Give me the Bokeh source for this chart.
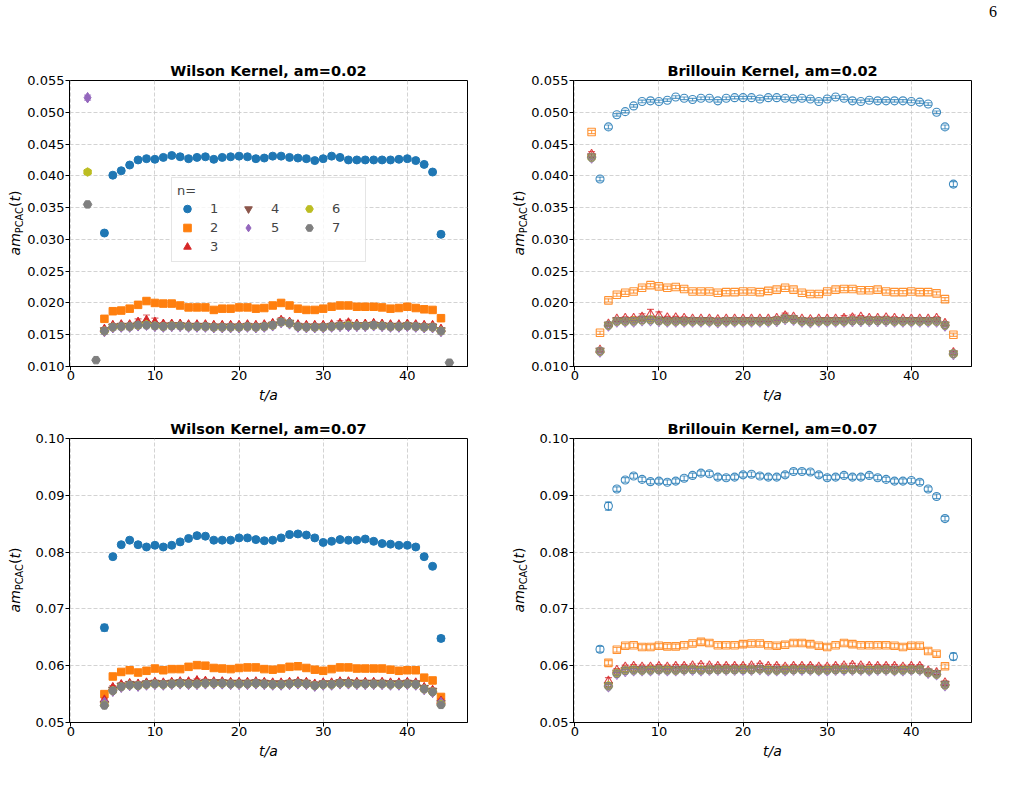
import math
from bokeh.plotting import figure
from bokeh.layouts import column, row
from bokeh.models import (ColumnDataSource, FixedTicker, PrintfTickFormatter,
                          Legend, LegendItem, Range1d, Div)
from bokeh.embed import file_html
from bokeh.resources import INLINE

# ---------------------------------------------------------------- data
# time slices
T2_45 = list(range(2, 46))
T3_45 = list(range(3, 46))
T4_44 = list(range(4, 45))
T2_4_44 = [2] + list(range(4, 45))

# Wilson kernel, am = 0.02
wk02_t = {1: T4_44, 2: T4_44, 3: T4_44, 4: T4_44, 5: T2_4_44, 6: T2_4_44, 7: T2_45}
wk02_n1 = [0.0310, 0.0401, 0.0408, 0.0417, 0.0425, 0.0427, 0.0426, 0.0429, 0.0432, 0.0430,
           0.0427, 0.0429, 0.0430, 0.0426, 0.0429, 0.0430, 0.0431, 0.0430, 0.0427, 0.0428,
           0.0431, 0.0431, 0.0429, 0.0428, 0.0427, 0.0424, 0.0427, 0.0431, 0.0429, 0.0425,
           0.0425, 0.0425, 0.0425, 0.0425, 0.0425, 0.0426, 0.0427, 0.0424, 0.0418, 0.0406,
           0.0308]
wk02_n2 = [0.0175, 0.0187, 0.0188, 0.0191, 0.0197, 0.0203, 0.0200, 0.0199, 0.0199, 0.0196,
           0.0193, 0.0193, 0.0193, 0.0189, 0.0191, 0.0191, 0.0193, 0.0193, 0.0191, 0.0192,
           0.0196, 0.0200, 0.0196, 0.0191, 0.0189, 0.0189, 0.0191, 0.0194, 0.0196, 0.0196,
           0.0194, 0.0194, 0.0194, 0.0193, 0.0191, 0.0192, 0.0194, 0.0192, 0.0190, 0.0189,
           0.0176]
wk02_n3 = [0.0159, 0.0165, 0.0166, 0.0166, 0.0170, 0.0173, 0.0170, 0.0167, 0.0167, 0.0167,
           0.0166, 0.0166, 0.0166, 0.0165, 0.0165, 0.0165, 0.0165, 0.0166, 0.0165, 0.0166,
           0.0168, 0.0173, 0.0170, 0.0166, 0.0165, 0.0165, 0.0165, 0.0166, 0.0168, 0.0169,
           0.0167, 0.0167, 0.0168, 0.0167, 0.0166, 0.0166, 0.0167, 0.0166, 0.0165, 0.0165,
           0.0159]
wk02_n4 = [0.0157, 0.0163, 0.0164, 0.0164, 0.0166, 0.0167, 0.0165, 0.0164, 0.0165, 0.0165,
           0.0164, 0.0164, 0.0164, 0.0163, 0.0163, 0.0163, 0.0163, 0.0164, 0.0163, 0.0164,
           0.0166, 0.0171, 0.0169, 0.0164, 0.0163, 0.0163, 0.0163, 0.0164, 0.0165, 0.0166,
           0.0165, 0.0165, 0.0166, 0.0165, 0.0164, 0.0164, 0.0165, 0.0164, 0.0163, 0.0163,
           0.0157]
wk02_n5 = [0.0523,
           0.0155, 0.0161, 0.0162, 0.0162, 0.0164, 0.0165, 0.0163, 0.0162, 0.0163, 0.0163,
           0.0162, 0.0162, 0.0162, 0.0161, 0.0161, 0.0161, 0.0161, 0.0162, 0.0161, 0.0162,
           0.0164, 0.0169, 0.0167, 0.0162, 0.0161, 0.0161, 0.0161, 0.0162, 0.0163, 0.0163,
           0.0163, 0.0163, 0.0164, 0.0163, 0.0162, 0.0162, 0.0163, 0.0162, 0.0161, 0.0161,
           0.0155]
wk02_n6 = [0.0406,
           0.0156, 0.0162, 0.0163, 0.0163, 0.0165, 0.0166, 0.0164, 0.0163, 0.0164, 0.0164,
           0.0163, 0.0163, 0.0163, 0.0162, 0.0162, 0.0162, 0.0162, 0.0163, 0.0162, 0.0163,
           0.0165, 0.0170, 0.0168, 0.0163, 0.0162, 0.0162, 0.0162, 0.0163, 0.0164, 0.0165,
           0.0164, 0.0164, 0.0165, 0.0164, 0.0163, 0.0163, 0.0164, 0.0163, 0.0162, 0.0162,
           0.0156]
wk02_n7 = [0.0355, 0.0110,
           0.0156, 0.0162, 0.0163, 0.0163, 0.0165, 0.0165, 0.0164, 0.0163, 0.0164, 0.0164,
           0.0163, 0.0163, 0.0163, 0.0162, 0.0162, 0.0162, 0.0162, 0.0163, 0.0162, 0.0163,
           0.0165, 0.0170, 0.0168, 0.0163, 0.0162, 0.0162, 0.0162, 0.0163, 0.0164, 0.0164,
           0.0164, 0.0164, 0.0165, 0.0164, 0.0163, 0.0163, 0.0164, 0.0163, 0.0162, 0.0162,
           0.0156, 0.0106]
# (typical error, {time slice: larger error})
wk02_err = {1: (0.0002, {4: 0.0003, 12: 0.0003, 44: 0.0003}),
            2: (0.0002, {9: 0.0004}),
            3: (0.0002, {8: 0.0005, 9: 0.0008, 10: 0.0006, 25: 0.0004, 32: 0.0004, 33: 0.0004}),
            4: (0.0002, {}), 5: (0.0004, {}), 6: (0.0002, {}), 7: (0.0002, {})}

# Brillouin kernel, am = 0.02
bk02_t = {1: T3_45, 2: T2_45, 3: T2_45, 4: T2_45, 5: T2_45, 6: T2_45, 7: T2_45}
bk02_n1 = [0.0395, 0.0477, 0.0496, 0.0501, 0.0510, 0.0517, 0.0518, 0.0517, 0.0519, 0.0524,
           0.0522, 0.0520, 0.0522, 0.0522, 0.0518, 0.0522, 0.0523, 0.0523, 0.0523, 0.0521,
           0.0523, 0.0523, 0.0522, 0.0521, 0.0522, 0.0521, 0.0517, 0.0521, 0.0524, 0.0522,
           0.0518, 0.0517, 0.0519, 0.0518, 0.0518, 0.0518, 0.0518, 0.0517, 0.0516, 0.0513,
           0.0500, 0.0477, 0.0387]
bk02_n2 = [0.0469, 0.0153, 0.0204, 0.0213, 0.0216, 0.0218, 0.0224, 0.0228, 0.0226, 0.0224,
           0.0225, 0.0222, 0.0218, 0.0218, 0.0218, 0.0216, 0.0217, 0.0217, 0.0218, 0.0218,
           0.0217, 0.0219, 0.0221, 0.0224, 0.0221, 0.0216, 0.0214, 0.0214, 0.0218, 0.0221,
           0.0222, 0.0222, 0.0220, 0.0220, 0.0221, 0.0218, 0.0217, 0.0217, 0.0218, 0.0217,
           0.0217, 0.0215, 0.0206, 0.0150]
bk02_n3 = [0.0434, 0.0126, 0.0167, 0.0175, 0.0176, 0.0176, 0.0178, 0.0182, 0.0180, 0.0177,
           0.0177, 0.0176, 0.0175, 0.0175, 0.0175, 0.0174, 0.0175, 0.0175, 0.0175, 0.0175,
           0.0175, 0.0175, 0.0176, 0.0180, 0.0178, 0.0175, 0.0174, 0.0175, 0.0175, 0.0175,
           0.0176, 0.0177, 0.0178, 0.0176, 0.0176, 0.0177, 0.0176, 0.0175, 0.0175, 0.0175,
           0.0175, 0.0176, 0.0168, 0.0122]
bk02_n4 = [0.0431, 0.0125, 0.0166, 0.0173, 0.0173, 0.0173, 0.0175, 0.0175, 0.0174, 0.0173,
           0.0173, 0.0173, 0.0173, 0.0173, 0.0173, 0.0172, 0.0173, 0.0173, 0.0173, 0.0173,
           0.0173, 0.0173, 0.0174, 0.0177, 0.0176, 0.0173, 0.0172, 0.0173, 0.0173, 0.0173,
           0.0173, 0.0174, 0.0174, 0.0174, 0.0174, 0.0174, 0.0173, 0.0173, 0.0173, 0.0173,
           0.0173, 0.0173, 0.0166, 0.0121]
bk02_n5 = [0.0428, 0.0123, 0.0164, 0.0170, 0.0170, 0.0170, 0.0172, 0.0172, 0.0171, 0.0170,
           0.0170, 0.0170, 0.0170, 0.0170, 0.0170, 0.0169, 0.0170, 0.0170, 0.0170, 0.0170,
           0.0170, 0.0170, 0.0171, 0.0174, 0.0173, 0.0170, 0.0169, 0.0170, 0.0170, 0.0170,
           0.0170, 0.0171, 0.0171, 0.0171, 0.0171, 0.0171, 0.0170, 0.0170, 0.0170, 0.0170,
           0.0170, 0.0170, 0.0164, 0.0119]
bk02_n6 = [0.0429, 0.0124, 0.0165, 0.0171, 0.0171, 0.0172, 0.0173, 0.0174, 0.0172, 0.0171,
           0.0171, 0.0171, 0.0171, 0.0171, 0.0171, 0.0170, 0.0171, 0.0171, 0.0171, 0.0171,
           0.0171, 0.0171, 0.0172, 0.0175, 0.0174, 0.0171, 0.0170, 0.0171, 0.0171, 0.0171,
           0.0171, 0.0172, 0.0172, 0.0172, 0.0172, 0.0172, 0.0171, 0.0171, 0.0171, 0.0171,
           0.0171, 0.0171, 0.0165, 0.0120]
bk02_n7 = [0.0429, 0.0124, 0.0165, 0.0171, 0.0171, 0.0171, 0.0173, 0.0173, 0.0172, 0.0171,
           0.0171, 0.0171, 0.0171, 0.0171, 0.0171, 0.0170, 0.0171, 0.0171, 0.0171, 0.0171,
           0.0171, 0.0171, 0.0172, 0.0175, 0.0174, 0.0171, 0.0170, 0.0171, 0.0171, 0.0171,
           0.0171, 0.0172, 0.0172, 0.0172, 0.0172, 0.0172, 0.0171, 0.0171, 0.0171, 0.0171,
           0.0171, 0.0171, 0.0165, 0.0120]
bk02_err = {1: (0.0002, {3: 0.0003, 4: 0.0003, 44: 0.0003, 45: 0.0004}),
            2: (0.00025, {}),
            3: (0.0002, {2: 0.0004, 8: 0.0005, 9: 0.0008, 10: 0.0006, 25: 0.0004, 32: 0.0004, 33: 0.0004}),
            4: (0.0002, {}), 5: (0.0002, {}), 6: (0.0002, {}), 7: (0.0002, {})}

# Wilson kernel, am = 0.07
wk07_t = {n: T4_44 for n in range(1, 8)}
wk07_n1 = [0.0667, 0.0792, 0.0813, 0.0821, 0.0813, 0.0809, 0.0812, 0.0809, 0.0812, 0.0818,
           0.0824, 0.0829, 0.0828, 0.0821, 0.0821, 0.0821, 0.0825, 0.0825, 0.0822, 0.0820,
           0.0821, 0.0825, 0.0831, 0.0832, 0.0830, 0.0825, 0.0817, 0.0819, 0.0822, 0.0821,
           0.0821, 0.0823, 0.0819, 0.0815, 0.0814, 0.0812, 0.0812, 0.0809, 0.0792, 0.0775,
           0.0648]
wk07_n2 = [0.0550, 0.0581, 0.0589, 0.0592, 0.0588, 0.0591, 0.0595, 0.0592, 0.0594, 0.0594,
           0.0598, 0.0601, 0.0600, 0.0596, 0.0595, 0.0594, 0.0596, 0.0597, 0.0597, 0.0594,
           0.0593, 0.0595, 0.0598, 0.0599, 0.0596, 0.0593, 0.0591, 0.0594, 0.0597, 0.0597,
           0.0595, 0.0595, 0.0595, 0.0595, 0.0593, 0.0591, 0.0592, 0.0592, 0.0579, 0.0574,
           0.0545]
wk07_n3 = [0.0540, 0.0562, 0.0567, 0.0569, 0.0568, 0.0570, 0.0571, 0.0570, 0.0571, 0.0572,
           0.0572, 0.0574, 0.0573, 0.0572, 0.0572, 0.0571, 0.0571, 0.0571, 0.0572, 0.0571,
           0.0570, 0.0570, 0.0571, 0.0572, 0.0571, 0.0568, 0.0570, 0.0570, 0.0572, 0.0572,
           0.0571, 0.0571, 0.0571, 0.0571, 0.0570, 0.0570, 0.0571, 0.0570, 0.0562, 0.0557,
           0.0538]
wk07_n4 = [0.0533, 0.0558, 0.0565, 0.0568, 0.0567, 0.0569, 0.0570, 0.0569, 0.0570, 0.0571,
           0.0570, 0.0570, 0.0571, 0.0571, 0.0571, 0.0570, 0.0570, 0.0570, 0.0571, 0.0570,
           0.0569, 0.0569, 0.0570, 0.0571, 0.0570, 0.0567, 0.0569, 0.0569, 0.0571, 0.0571,
           0.0570, 0.0570, 0.0570, 0.0570, 0.0569, 0.0569, 0.0570, 0.0569, 0.0561, 0.0556,
           0.0534]
wk07_n5 = [0.0535, 0.0555, 0.0562, 0.0565, 0.0564, 0.0566, 0.0567, 0.0566, 0.0567, 0.0568,
           0.0567, 0.0567, 0.0568, 0.0568, 0.0568, 0.0567, 0.0567, 0.0567, 0.0568, 0.0567,
           0.0566, 0.0566, 0.0567, 0.0568, 0.0567, 0.0564, 0.0566, 0.0566, 0.0568, 0.0568,
           0.0567, 0.0567, 0.0567, 0.0567, 0.0566, 0.0566, 0.0567, 0.0566, 0.0558, 0.0553,
           0.0535]
wk07_n6 = [0.0531, 0.0556, 0.0563, 0.0566, 0.0565, 0.0567, 0.0568, 0.0567, 0.0568, 0.0569,
           0.0568, 0.0568, 0.0569, 0.0569, 0.0569, 0.0568, 0.0568, 0.0568, 0.0569, 0.0568,
           0.0567, 0.0567, 0.0568, 0.0569, 0.0568, 0.0565, 0.0567, 0.0567, 0.0569, 0.0569,
           0.0568, 0.0568, 0.0568, 0.0568, 0.0567, 0.0567, 0.0568, 0.0567, 0.0559, 0.0554,
           0.0532]
wk07_n7 = [0.0530, 0.0556, 0.0563, 0.0566, 0.0565, 0.0567, 0.0568, 0.0567, 0.0568, 0.0569,
           0.0568, 0.0568, 0.0569, 0.0569, 0.0569, 0.0568, 0.0568, 0.0568, 0.0569, 0.0568,
           0.0567, 0.0567, 0.0568, 0.0569, 0.0568, 0.0565, 0.0567, 0.0567, 0.0569, 0.0569,
           0.0568, 0.0568, 0.0568, 0.0568, 0.0567, 0.0567, 0.0568, 0.0567, 0.0559, 0.0554,
           0.0531]
wk07_err = {1: (0.0003, {4: 0.0006, 15: 0.0004, 26: 0.0004, 27: 0.0004, 44: 0.0005}),
            2: (0.0003, {}), 3: (0.0003, {}), 4: (0.0003, {}), 5: (0.0003, {}),
            6: (0.0003, {}), 7: (0.0003, {})}

# Brillouin kernel, am = 0.07
bk07_t = {1: T3_45, 2: T4_44, 3: T4_44, 4: T4_44, 5: T4_44, 6: T4_44, 7: T4_44}
bk07_n1 = [0.0629, 0.0881, 0.0911, 0.0927, 0.0934, 0.0928, 0.0924, 0.0925, 0.0923, 0.0925,
           0.0930, 0.0935, 0.0939, 0.0938, 0.0932, 0.0931, 0.0932, 0.0936, 0.0937, 0.0934,
           0.0932, 0.0932, 0.0936, 0.0942, 0.0942, 0.0941, 0.0936, 0.0931, 0.0932, 0.0935,
           0.0932, 0.0932, 0.0935, 0.0931, 0.0928, 0.0925, 0.0925, 0.0926, 0.0923, 0.0911,
           0.0898, 0.0859, 0.0616]
bk07_n2 = [0.0605, 0.0628, 0.0635, 0.0636, 0.0633, 0.0633, 0.0635, 0.0634, 0.0634, 0.0636,
           0.0639, 0.0642, 0.0640, 0.0636, 0.0636, 0.0636, 0.0638, 0.0639, 0.0639, 0.0636,
           0.0635, 0.0637, 0.0640, 0.0640, 0.0638, 0.0635, 0.0633, 0.0636, 0.0640, 0.0638,
           0.0636, 0.0636, 0.0636, 0.0636, 0.0635, 0.0633, 0.0635, 0.0635, 0.0626, 0.0621,
           0.0599]
bk07_n3 = [0.0573, 0.0592, 0.0598, 0.0599, 0.0598, 0.0598, 0.0599, 0.0598, 0.0599, 0.0599,
           0.0600, 0.0601, 0.0600, 0.0599, 0.0599, 0.0599, 0.0599, 0.0600, 0.0601, 0.0599,
           0.0599, 0.0598, 0.0599, 0.0599, 0.0599, 0.0598, 0.0598, 0.0599, 0.0600, 0.0601,
           0.0600, 0.0599, 0.0599, 0.0599, 0.0599, 0.0598, 0.0599, 0.0599, 0.0591, 0.0588,
           0.0570]
bk07_n4 = [0.0566, 0.0588, 0.0593, 0.0594, 0.0594, 0.0594, 0.0595, 0.0594, 0.0594, 0.0595,
           0.0595, 0.0594, 0.0595, 0.0595, 0.0595, 0.0595, 0.0595, 0.0595, 0.0596, 0.0594,
           0.0594, 0.0594, 0.0595, 0.0595, 0.0595, 0.0594, 0.0594, 0.0595, 0.0595, 0.0595,
           0.0595, 0.0594, 0.0595, 0.0595, 0.0594, 0.0594, 0.0595, 0.0595, 0.0590, 0.0587,
           0.0568]
bk07_n5 = [0.0563, 0.0585, 0.0590, 0.0591, 0.0591, 0.0591, 0.0592, 0.0591, 0.0591, 0.0592,
           0.0592, 0.0591, 0.0592, 0.0592, 0.0592, 0.0592, 0.0592, 0.0592, 0.0593, 0.0591,
           0.0591, 0.0591, 0.0592, 0.0592, 0.0592, 0.0591, 0.0591, 0.0592, 0.0592, 0.0592,
           0.0592, 0.0591, 0.0592, 0.0592, 0.0591, 0.0591, 0.0592, 0.0592, 0.0587, 0.0584,
           0.0565]
bk07_n6 = [0.0565, 0.0587, 0.0592, 0.0593, 0.0592, 0.0593, 0.0593, 0.0593, 0.0592, 0.0593,
           0.0594, 0.0593, 0.0593, 0.0593, 0.0593, 0.0593, 0.0594, 0.0593, 0.0594, 0.0593,
           0.0592, 0.0593, 0.0593, 0.0594, 0.0593, 0.0592, 0.0593, 0.0593, 0.0594, 0.0593,
           0.0593, 0.0593, 0.0593, 0.0593, 0.0592, 0.0593, 0.0593, 0.0593, 0.0588, 0.0585,
           0.0566]
bk07_n7 = [0.0564, 0.0586, 0.0591, 0.0592, 0.0592, 0.0592, 0.0593, 0.0592, 0.0592, 0.0593,
           0.0593, 0.0592, 0.0593, 0.0593, 0.0593, 0.0593, 0.0593, 0.0593, 0.0594, 0.0592,
           0.0592, 0.0592, 0.0593, 0.0593, 0.0593, 0.0592, 0.0592, 0.0593, 0.0593, 0.0593,
           0.0593, 0.0592, 0.0593, 0.0593, 0.0592, 0.0592, 0.0593, 0.0593, 0.0588, 0.0585,
           0.0566]
bk07_err = {1: (0.0004, {3: 0.0005, 4: 0.0007, 45: 0.0006}),
            2: (0.0004, {}), 3: (0.0003, {4: 0.0006}), 4: (0.0003, {}), 5: (0.0003, {}),
            6: (0.0003, {}), 7: (0.0003, {})}

X_TICKS = [0, 10, 20, 30, 40]
Y_TICKS_02 = [0.010, 0.015, 0.020, 0.025, 0.030, 0.035, 0.040, 0.045, 0.050, 0.055]
Y_TICKS_07 = [0.05, 0.06, 0.07, 0.08, 0.09, 0.10]
N_VALUES = [1, 2, 3, 4, 5, 6, 7]

# ---------------------------------------------------------------- style
FONT = "DejaVu Sans"
COLORS = {1: "#1f77b4", 2: "#ff7f0e", 3: "#d62728", 4: "#8c564b",
          5: "#9467bd", 6: "#bcbd22", 7: "#7f7f7f"}
MARKERS = {1: "circle", 2: "square", 3: "triangle", 4: "inverted_triangle",
           5: "diamond", 6: "hex", 7: "hex"}
ANGLES = {1: 0, 2: 0, 3: 0, 4: 0, 5: 0, 6: math.pi / 6, 7: 0}
SIZES = {1: 8, 2: 7.5, 3: 8.5, 4: 8.5, 5: 10.5, 6: 8.5, 7: 8.5}


def add_series(p, n, t, y, err_spec, hollow):
    c = COLORS[n]
    base, extra = err_spec
    e = [extra.get(tt, base) for tt in t]
    src = ColumnDataSource(dict(t=t, y=y,
                                lo=[v - d for v, d in zip(y, e)],
                                hi=[v + d for v, d in zip(y, e)]))
    p.segment(x0="t", y0="lo", x1="t", y1="hi", source=src,
              line_color=c, line_width=1.2, line_alpha=0.7)
    for key in ("lo", "hi"):
        p.scatter(x="t", y=key, source=src, marker="dash", size=7,
                  line_color=c, line_width=1.2, line_alpha=0.7)
    if hollow:
        return p.scatter(x="t", y="y", source=src, marker=MARKERS[n], size=SIZES[n],
                         angle=ANGLES[n], fill_color=None, line_color=c,
                         line_width=1.1, line_alpha=0.85)
    return p.scatter(x="t", y="y", source=src, marker=MARKERS[n], size=SIZES[n],
                     angle=ANGLES[n], fill_color=c, line_color=c, line_width=1)


def ylabel_div(width, height, center_y):
    html = (
        f'<div style="position:relative;width:{width}px;height:{height}px;">'
        f'<div style="position:absolute;left:14.6px;top:{center_y}px;'
        'transform:translate(-50%,-50%) rotate(-90deg);white-space:nowrap;'
        "font-family:'DejaVu Sans';font-size:14px;line-height:1;color:black;\">"
        '<i>am</i><span style="font-size:9.8px;position:relative;top:3px;">PCAC</span>'
        '(<i>t</i>)</div></div>'
    )
    return Div(text=html, width=width, height=height, margin=0)


def make_fig(title, ylo, yhi, yticks, yfmt, left, right, top, bottom, fh):
    p = figure(frame_width=398, frame_height=fh,
               x_range=Range1d(-0.15, 47.15), y_range=Range1d(ylo, yhi),
               output_backend="svg", toolbar_location=None, title=title,
               min_border_left=left, min_border_right=right,
               min_border_top=top, min_border_bottom=bottom,
               background_fill_color="white", border_fill_color="white")
    p.title.text_font = FONT
    p.title.text_font_style = "bold"
    p.title.text_font_size = "14.5px"
    p.title.align = "center"
    p.title.text_color = "black"
    if "standoff" in p.title.properties():
        p.title.standoff = 4

    p.xaxis.ticker = FixedTicker(ticks=X_TICKS)
    p.yaxis.ticker = FixedTicker(ticks=yticks)
    p.yaxis.formatter = PrintfTickFormatter(format=yfmt)
    for ax in (p.xaxis, p.yaxis):
        ax.major_label_text_font = FONT
        ax.major_label_text_font_size = "13px"
        ax.major_label_text_color = "black"
        ax.major_tick_in = 0
        ax.major_tick_out = 4
        ax.major_tick_line_color = "black"
        ax.minor_tick_line_color = None
        ax.axis_line_color = "black"
    p.yaxis.major_label_standoff = 1
    p.xaxis.major_label_standoff = 0
    p.xaxis.axis_label = "t/a"
    p.xaxis.axis_label_text_font = FONT
    p.xaxis.axis_label_text_font_style = "italic"
    p.xaxis.axis_label_text_font_size = "14px"
    p.xaxis.axis_label_text_color = "black"
    p.xaxis.axis_label_standoff = 4

    p.grid.grid_line_color = "#c8c8c8"
    p.grid.grid_line_dash = "4 2"
    p.grid.grid_line_width = 0.8
    p.outline_line_color = "black"
    p.outline_line_width = 1
    p.outline_line_alpha = 1
    return p


def fill_panel(p, t_map, values, errs, hollow):
    rend = {}
    for n in N_VALUES:
        rend[n] = add_series(p, n, t_map[n], values[n], errs[n], hollow)
    return rend


# ---------------------------------------------------------------- panels
TOP_H = 24           # strip holding the page number
ROW1_H = 386
ROW2_H = 378
YLAB_W = 23

f1 = make_fig("Wilson Kernel, am=0.02", 0.010, 0.055, Y_TICKS_02, "%.3f", 46, 37, 56, 44, 286)
f2 = make_fig("Brillouin Kernel, am=0.02", 0.010, 0.055, Y_TICKS_02, "%.3f", 46, 43, 56, 44, 286)
f3 = make_fig("Wilson Kernel, am=0.07", 0.05, 0.10, Y_TICKS_07, "%.2f", 46, 37, 28, 66, 284)
f4 = make_fig("Brillouin Kernel, am=0.07", 0.05, 0.10, Y_TICKS_07, "%.2f", 46, 43, 28, 66, 284)

r1 = fill_panel(f1, wk02_t, {1: wk02_n1, 2: wk02_n2, 3: wk02_n3, 4: wk02_n4,
                             5: wk02_n5, 6: wk02_n6, 7: wk02_n7}, wk02_err, False)
fill_panel(f2, bk02_t, {1: bk02_n1, 2: bk02_n2, 3: bk02_n3, 4: bk02_n4,
                        5: bk02_n5, 6: bk02_n6, 7: bk02_n7}, bk02_err, True)
fill_panel(f3, wk07_t, {1: wk07_n1, 2: wk07_n2, 3: wk07_n3, 4: wk07_n4,
                        5: wk07_n5, 6: wk07_n6, 7: wk07_n7}, wk07_err, False)
fill_panel(f4, bk07_t, {1: bk07_n1, 2: bk07_n2, 3: bk07_n3, 4: bk07_n4,
                        5: bk07_n5, 6: bk07_n6, 7: bk07_n7}, bk07_err, True)

# legend: three columns, filled column by column (1 2 3 | 4 5 | 6 7)
legend_order = [1, 4, 6, 2, 5, 7, 3]
legend = Legend(items=[LegendItem(label=str(n), renderers=[r1[n]]) for n in legend_order],
                location=(102, 104), orientation="horizontal", title="n=",
                margin=0, padding=5, spacing=0,
                glyph_width=20, glyph_height=19, label_width=28, label_height=19,
                label_standoff=13,
                label_text_font=FONT, label_text_font_size="13px",
                title_text_font=FONT, title_text_font_size="13px",
                title_text_font_style="normal", title_standoff=1,
                background_fill_color="white", background_fill_alpha=0.8,
                border_line_color="#cccccc", border_line_width=1)
if "ncols" in legend.properties():
    legend.ncols = 3
f1.add_layout(legend)

# page number strip
page_no = Div(text=('<div style="position:relative;width:1014px;height:24px;">'
                    '<div style="position:absolute;left:989px;top:4px;'
                    "font-family:'Liberation Serif';font-size:16px;line-height:1;"
                    'color:black;">6</div></div>'),
              width=1014, height=TOP_H, margin=0)

layout = column(
    page_no,
    row(ylabel_div(YLAB_W, ROW1_H, 56 + 143), f1, ylabel_div(YLAB_W, ROW1_H, 56 + 143), f2),
    row(ylabel_div(YLAB_W, ROW2_H, 28 + 142), f3, ylabel_div(YLAB_W, ROW2_H, 28 + 142), f4),
)

with open("out.html", "w") as fh_out:
    fh_out.write(file_html(layout, INLINE))
